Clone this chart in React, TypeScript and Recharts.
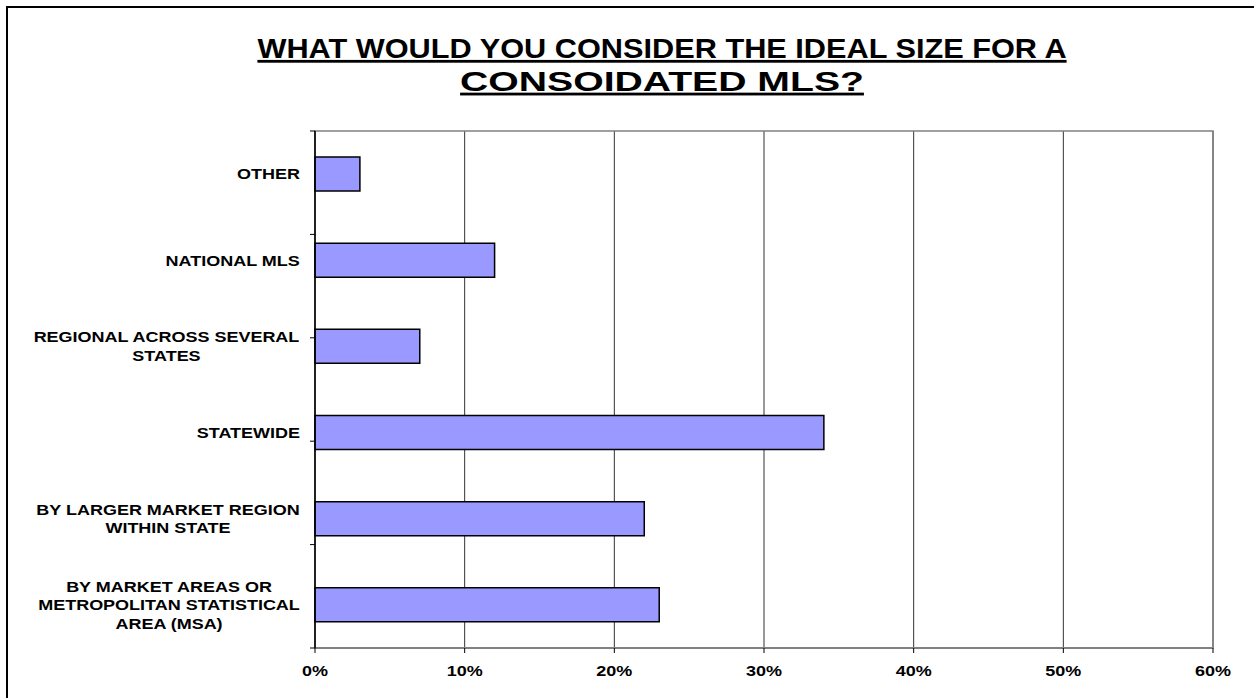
import React from 'react';
import { BarChart, Bar, XAxis, YAxis, CartesianGrid, ReferenceArea } from 'recharts';

const categories = [
  'OTHER',
  'NATIONAL MLS',
  'REGIONAL ACROSS SEVERAL STATES',
  'STATEWIDE',
  'BY LARGER MARKET REGION WITHIN STATE',
  'BY MARKET AREAS OR METROPOLITAN STATISTICAL AREA (MSA)',
];
const categoryLines = [
  ['OTHER'],
  ['NATIONAL MLS'],
  ['REGIONAL ACROSS SEVERAL', 'STATES'],
  ['STATEWIDE'],
  ['BY LARGER MARKET REGION', 'WITHIN STATE'],
  ['BY MARKET AREAS OR', 'METROPOLITAN STATISTICAL', 'AREA (MSA)'],
];
const values = [3, 12, 7, 34, 22, 23];
const xTicks = [0, 10, 20, 30, 40, 50, 60];
const boundaryTicks = [0, 1, 2, 3, 4, 5, 6];
const titleLines = ['WHAT WOULD YOU CONSIDER THE IDEAL SIZE FOR A', 'CONSOIDATED MLS?'];
const titleWidths = [812, 404];

const data = categories.map((name, i) => ({ name, value: values[i] }));

const FONT = '"Liberation Sans", Arial, sans-serif';
const LABEL_SIZE = 15;
const LABEL_SX = 1.2;
const LINE_GAP = 18.7;
const CAP = 0.716 * LABEL_SIZE;
const TITLE_SIZE = 28;

let ctx: CanvasRenderingContext2D | null = null;
function measure(text: string, size: number): number {
  if (!ctx) ctx = document.createElement('canvas').getContext('2d');
  if (!ctx) return text.length * size * 0.7;
  ctx.font = `bold ${size}px "Liberation Sans"`;
  return ctx.measureText(text).width;
}

const CatTick = (props: any) => {
  const { x, y, payload } = props;
  const idx = categories.indexOf(payload.value);
  const lines = categoryLines[idx] || [String(payload.value)];
  const maxW = Math.max(...lines.map((l) => measure(l, LABEL_SIZE))) * LABEL_SX;
  const cx = x - maxW / 2;
  const first = y - ((lines.length - 1) * LINE_GAP) / 2 + CAP / 2;
  return (
    <g>
      {lines.map((l, i) => (
        <g key={i} transform={`translate(${cx},${first + i * LINE_GAP}) scale(${LABEL_SX},1)`}>
          <text x={0} y={0} textAnchor="middle" fontFamily={FONT} fontWeight="bold" fontSize={LABEL_SIZE} fill="#000">
            {l}
          </text>
        </g>
      ))}
    </g>
  );
};

const XTick = (props: any) => {
  const { x, y, payload } = props;
  return (
    <g transform={`translate(${x},${y + CAP}) scale(${LABEL_SX},1)`}>
      <text x={0} y={0} textAnchor="middle" fontFamily={FONT} fontWeight="bold" fontSize={LABEL_SIZE} fill="#000">
        {`${payload.value}%`}
      </text>
    </g>
  );
};

const EmptyTick = () => <g />;

export default function App() {
  return (
    <div style={{ position: 'absolute', left: 0, top: 0, width: 1254, height: 698, overflow: 'hidden', background: '#fff' }}>
      <div
        style={{
          position: 'absolute',
          left: 6,
          top: 6,
          width: 1248,
          height: 692,
          borderLeft: '2px solid #000',
          borderTop: '2px solid #000',
          boxSizing: 'border-box',
        }}
      />
      <svg style={{ position: 'absolute', left: 0, top: 0 }} width={1254} height={120}>
        {titleLines.map((t, i) => {
          const sx = titleWidths[i] / measure(t, TITLE_SIZE);
          return (
            <g key={i} transform={`translate(662,${58 + i * 33}) scale(${sx},1)`}>
              <text x={0} y={0} textAnchor="middle" fontFamily={FONT} fontWeight="bold" fontSize={TITLE_SIZE} fill="#000" textDecoration="underline">
                {t}
              </text>
            </g>
          );
        })}
      </svg>
      <div style={{ position: 'absolute', left: 0, top: 0 }}>
        <BarChart width={1254} height={698} data={data} layout="vertical" margin={{ top: 131, right: 41, left: 0, bottom: 10 }}>
          <CartesianGrid horizontal={false} vertical stroke="#333" yAxisId="cat" />
          <ReferenceArea x1={0} x2={60} yAxisId="cat" fill="none" stroke="#808080" strokeWidth={1.5} ifOverflow="visible" />
          <XAxis
            type="number"
            domain={[0, 60]}
            ticks={xTicks}
            interval={0}
            height={40}
            axisLine={{ stroke: '#808080', strokeWidth: 2 }}
            tickLine={{ stroke: '#000' }}
            tickSize={5}
            tickMargin={12}
            tick={<XTick />}
          />
          <YAxis
            yAxisId="bounds"
            type="number"
            domain={[0, 6]}
            ticks={boundaryTicks}
            interval={0}
            width={6}
            tick={<EmptyTick />}
            tickSize={5}
            axisLine={{ stroke: '#000', strokeWidth: 1.5 }}
            tickLine={{ stroke: '#000', strokeWidth: 1 }}
          />
          <YAxis
            yAxisId="cat"
            type="category"
            dataKey="name"
            width={309}
            interval={0}
            axisLine={false}
            tickLine={false}
            tickSize={0}
            tickMargin={9}
            tick={<CatTick />}
          />
          <Bar dataKey="value" yAxisId="cat" fill="#9999FF" stroke="#000" strokeWidth={1.5} barSize={34} isAnimationActive={false} />
        </BarChart>
      </div>
    </div>
  );
}
